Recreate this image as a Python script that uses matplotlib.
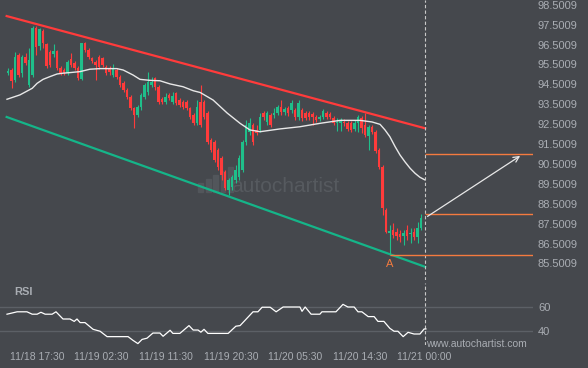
import matplotlib.pyplot as plt
from matplotlib.patches import Rectangle

plt.rcParams['font.family'] = ['Liberation Sans', 'DejaVu Sans']

bg = '#45484d'
txt = '#a9adb3'
up_col = '#1fbf8a'
down_col = '#ff3b3b'

# candles, one per index (open, high, low, close)
opens = [95.07, 95.22, 94.72, 95.98, 95.07, 95.88, 94.47, 94.97, 97.33, 96.43,
         97.18, 96.53, 96.13, 96.03, 96.18, 95.32, 95.22, 95.07, 95.78, 95.57,
         95.32, 94.77, 96.58, 96.23, 95.83, 95.62, 95.88, 95.83, 95.37, 95.32,
         94.97, 95.22, 94.87, 94.57, 94.22, 93.87, 93.31, 92.96, 93.36, 93.87,
         94.12, 94.47, 94.82, 94.37, 93.77, 93.61, 93.97, 93.61, 94.07, 93.71,
         93.61, 93.61, 93.31, 92.96, 92.56, 93.61, 93.61, 93.06, 91.71, 91.60,
         91.20, 90.80, 90.10, 89.19, 89.34, 89.70, 89.85, 90.20, 91.60, 92.11,
         92.46, 92.21, 92.21, 93.06, 92.61, 92.96, 92.96, 93.06, 93.36, 93.11,
         93.31, 93.21, 93.21, 92.86, 93.21, 93.06, 93.06, 93.01, 92.86, 92.76,
         92.86, 93.06, 93.01, 92.81, 92.56, 92.56, 92.61, 92.56, 92.56, 92.26,
         92.56, 92.81, 92.46, 91.91, 92.36, 92.11, 91.20, 90.35, 88.19, 87.03,
         87.18, 87.08, 86.98, 86.88, 87.18, 86.98, 87.08, 86.83, 87.28]
highs = [95.32, 95.32, 96.13, 96.08, 95.98, 96.08, 96.33, 97.43, 97.43, 97.33,
         97.28, 96.58, 96.23, 96.53, 96.23, 95.42, 95.32, 95.73, 96.08, 95.67,
         95.42, 96.58, 96.63, 96.33, 95.88, 95.73, 95.98, 95.88, 95.47, 95.42,
         95.52, 95.32, 94.97, 94.67, 94.32, 93.97, 93.36, 93.46, 94.07, 94.57,
         95.12, 94.87, 94.87, 94.47, 93.87, 94.07, 94.07, 94.12, 94.12, 93.82,
         93.71, 93.71, 93.36, 93.06, 93.71, 94.47, 93.71, 93.16, 91.81, 91.71,
         91.30, 90.90, 90.20, 89.80, 89.95, 90.45, 90.95, 91.71, 92.71, 92.81,
         92.56, 92.46, 93.06, 93.16, 93.16, 93.06, 93.31, 93.46, 93.71, 93.36,
         93.41, 93.71, 93.31, 93.71, 93.31, 93.16, 93.16, 93.11, 92.96, 92.96,
         93.26, 93.16, 93.11, 92.91, 92.81, 92.81, 92.76, 92.66, 92.66, 92.71,
         92.96, 92.91, 93.06, 92.46, 92.46, 92.21, 91.30, 90.45, 88.29, 87.43,
         87.53, 87.28, 87.18, 87.18, 87.43, 87.28, 87.28, 87.58, 87.99]
lows = [94.97, 94.32, 94.62, 94.87, 94.87, 95.47, 94.37, 94.87, 95.98, 96.23,
        96.33, 95.32, 95.37, 95.88, 95.22, 94.97, 94.97, 94.97, 95.37, 95.22,
        94.72, 94.72, 96.13, 95.78, 95.57, 94.72, 95.27, 95.37, 94.97, 94.97,
        94.87, 94.77, 94.37, 94.12, 93.77, 93.21, 92.31, 92.86, 93.21, 93.77,
        93.97, 94.37, 94.22, 93.51, 93.51, 93.51, 93.71, 93.51, 93.46, 93.36,
        93.26, 93.21, 92.76, 92.46, 92.46, 92.36, 92.76, 91.50, 91.10, 90.60,
        90.20, 89.70, 89.19, 88.94, 89.19, 89.54, 89.70, 90.10, 91.45, 91.96,
        91.45, 91.96, 92.11, 92.71, 92.46, 92.36, 92.81, 92.96, 92.96, 92.96,
        92.91, 93.06, 92.71, 92.71, 92.66, 92.71, 92.71, 92.46, 92.61, 92.66,
        92.76, 92.76, 92.76, 92.46, 92.16, 92.16, 92.41, 92.16, 92.11, 92.16,
        92.11, 92.06, 91.86, 91.20, 92.01, 91.05, 90.25, 87.94, 87.03, 85.93,
        86.78, 86.68, 86.58, 86.43, 86.68, 86.53, 86.68, 86.53, 87.18]
closes = [95.17, 94.67, 95.88, 94.97, 95.88, 95.57, 95.73, 97.33, 96.38, 97.28,
          96.58, 95.42, 95.47, 96.18, 95.32, 95.07, 95.07, 95.62, 95.47, 95.32,
          94.82, 96.58, 96.23, 95.88, 95.67, 95.47, 95.37, 95.47, 95.07, 95.12,
          95.27, 94.87, 94.47, 94.22, 93.87, 93.31, 92.96, 93.36, 93.97, 94.47,
          94.62, 94.62, 94.37, 93.61, 93.61, 93.87, 93.82, 93.92, 93.56, 93.46,
          93.36, 93.31, 92.86, 92.56, 93.36, 92.46, 92.86, 91.60, 91.20, 90.70,
          90.35, 89.95, 89.29, 89.70, 89.85, 90.20, 90.80, 91.60, 92.46, 92.56,
          91.60, 92.06, 92.86, 92.86, 93.06, 92.46, 93.06, 93.36, 93.11, 93.26,
          93.06, 93.56, 92.86, 93.56, 92.81, 92.81, 92.86, 92.86, 92.71, 92.86,
          93.16, 92.86, 92.86, 92.56, 92.61, 92.66, 92.56, 92.26, 92.21, 92.56,
          92.86, 92.31, 91.96, 92.36, 92.11, 91.15, 90.35, 88.29, 87.08, 87.13,
          86.93, 86.88, 86.83, 87.03, 86.88, 87.03, 86.83, 87.28, 87.79]

# white moving average
ma_x = [-0.3, 3.4, 6.9, 8.3, 10, 12, 14, 15.7, 17.7, 20.6, 23.4, 26.3, 31.1, 32.9,
        35.7, 37.7, 40.6, 43.4, 46.3, 50, 52.9, 54.9, 58.6, 62.6, 66.3, 69.1, 72,
        77.7, 83.4, 89.1, 94.9, 100.6, 104, 106.3, 107.7, 109.1, 110.6, 112,
        113.4, 114.9, 116.3, 117.7, 119.1]
ma_y = [93.75, 93.97, 94.30, 94.55, 94.75, 94.89, 95.02, 95.06, 95.09, 95.14,
        95.26, 95.29, 95.29, 95.22, 94.97, 94.75, 94.70, 94.68, 94.52, 94.38,
        94.18, 94.09, 93.71, 93.06, 92.54, 92.21, 92.12, 92.26, 92.37, 92.54,
        92.69, 92.69, 92.61, 92.49, 92.21, 91.87, 91.37, 90.95, 90.61, 90.28,
        90.03, 89.83, 89.70]

# RSI
rsi_x = [-0.3, 2.6, 5.4, 6.9, 8.3, 9.4, 10.6, 12.6, 13.7, 15.7, 17.7, 18.9, 19.7,
         20.6, 22, 24.3, 26.3, 28.3, 34.3, 35.7, 37.1, 38.3, 39.7, 41.4, 43.4,
         44.3, 46.3, 47.1, 49.1, 51.7, 52.9, 54.3, 55.1, 56, 57.1, 62.9, 65.1,
         66.3, 70, 71.4, 72.6, 74.9, 76.6, 78.6, 83.4, 84, 84.9, 86.6, 89.1, 89.7,
         93.7, 95.7, 97.1, 98.9, 100, 101.1, 102.9, 104.6, 105.7, 107.4, 109.1,
         110.3, 111.4, 112.9, 114.3, 116, 117.7, 118.9, 119.4]
rsi_y = [54, 56, 56, 54, 54, 55.6, 54, 54, 56, 50, 50, 48, 50, 47, 47, 41.4, 39.8,
         35.3, 35.3, 32.2, 29.5, 33, 34, 38.3, 38.3, 35.6, 40.6, 38, 38, 44.5,
         40.8, 40.8, 39, 41.4, 38, 38, 44, 44.5, 56, 56, 59.8, 59.8, 56, 60, 60,
         56.4, 60, 54, 54, 56, 56, 62.2, 60, 60, 56, 56, 52, 52, 48, 48, 42.2,
         39.8, 39.8, 35.3, 38.9, 37.5, 37.5, 41.7, 41.7]

# channel lines, target levels, projection
resist = ([-0.4, 119.2], [97.93, 92.29])
support = ([-0.4, 119.2], [92.86, 85.33])
now_x = 119.2
level_hi = 90.98
level_mid = 87.98
level_low = 85.91
point_a = 109
arrow_end = (147, 90.98)

price_ticks = [85.5009 + k for k in range(14)]
time_pos = [8.43, 26.77, 45.23, 63.71, 82.14, 100.71, 119.0]
time_labels = ['11/18 17:30', '11/19 02:30', '11/19 11:30', '11/19 20:30',
               '11/20 05:30', '11/20 14:30', '11/21 00:00']

fig = plt.figure(figsize=(5.88, 3.68), dpi=100, facecolor=bg)
ax = fig.add_axes([0, 1 - 280 / 368, 533 / 588, 280 / 368], facecolor=bg)
ax2 = fig.add_axes([0, 1 - 345.4 / 368, 533 / 588, 62.4 / 368], facecolor=bg)

xmin, xmax = -2.3, 150

# watermark
ax.text(0.535, 0.335, 'autochartist', transform=ax.transAxes, fontsize=15,
        color='#565a5f', ha='center', va='center', zorder=0)
for k, hgt in enumerate([0.03, 0.045, 0.06, 0.075, 0.09]):
    ax.add_patch(Rectangle((0.372 + k * 0.014, 0.315), 0.009, hgt,
                           transform=ax.transAxes, color='#52565b', zorder=0))

ax.plot(resist[0], resist[1], color='#ff3b3b', lw=1.6, zorder=2)
ax.plot(support[0], support[1], color='#15b589', lw=1.6, zorder=2)

for i in range(len(opens)):
    o, h, l, c = opens[i], highs[i], lows[i], closes[i]
    col = up_col if c >= o else down_col
    ax.vlines(i, l, h, color=col, lw=0.8, zorder=3)
    ax.bar(i, max(abs(c - o), 0.04), bottom=min(o, c), width=0.8, color=col,
           zorder=4, linewidth=0)

ax.plot(ma_x, ma_y, color='#e8e8e8', lw=1.0, zorder=5)

ax.axvline(now_x, color='#c9c9c9', lw=0.8, ls=(0, (3, 2)), zorder=6)
ax.hlines([level_hi, level_mid], now_x, xmax, color='#f47b3f', lw=1.0, zorder=6)
ax.hlines(level_low, point_a, xmax, color='#f47b3f', lw=1.0, zorder=6)
ax.text(point_a, 85.47, 'A', color='#f47b3f', fontsize=8, ha='center',
        va='center', zorder=6)
ax.annotate('', xy=arrow_end, xytext=(now_x, closes[-1]),
            arrowprops=dict(arrowstyle='->', color='#e8e8e8', lw=0.9), zorder=7)

ax.set_xlim(xmin, xmax)
ax.set_ylim(84.67, 98.737)
ax.yaxis.tick_right()
ax.set_yticks(price_ticks)
ax.set_yticklabels(['%.4f' % v for v in price_ticks])
ax.tick_params(axis='y', length=0, pad=3.6, labelsize=8, labelcolor=txt)
ax.set_xticks([])
for s in ax.spines.values():
    s.set_visible(False)

# RSI panel
ax2.axhline(60, color='#5c6066', lw=1, zorder=1)
ax2.axhline(40, color='#5c6066', lw=1, zorder=1)
ax2.plot(rsi_x, rsi_y, color='white', lw=0.9, zorder=3)
ax2.axvline(now_x, color='#c9c9c9', lw=0.8, ls=(0, (3, 2)), zorder=2)
ax2.set_xlim(xmin, xmax)
ax2.set_ylim(28, 80)
ax2.yaxis.tick_right()
ax2.set_yticks([40, 60])
ax2.tick_params(axis='y', length=0, pad=3.6, labelsize=8, labelcolor=txt)
ax2.set_xticks(time_pos)
ax2.set_xticklabels(time_labels)
ax2.tick_params(axis='x', length=0, pad=5, labelsize=7.5, labelcolor=txt)
for s in ax2.spines.values():
    s.set_visible(False)
ax2.text(14 / 533, 0.86, 'RSI', transform=ax2.transAxes, fontsize=8,
         fontweight='bold', color=txt, va='center')

fig.text(476 / 588, 1 - 344 / 368, 'www.autochartist.com', fontsize=7.5,
         color=txt, ha='center', va='center')

fig.savefig('out.png', dpi=100, facecolor=bg)
